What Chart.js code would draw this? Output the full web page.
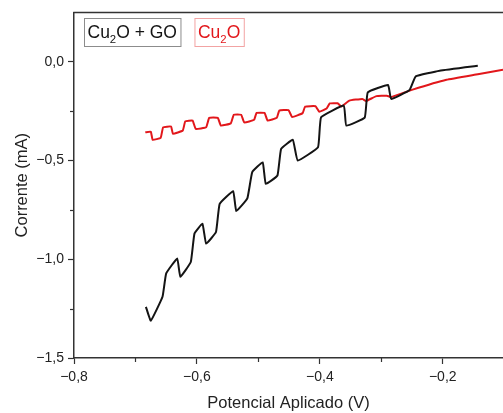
<!DOCTYPE html>
<html>
<head>
  <script src="https://cdn.jsdelivr.net/npm/chart.js@4/dist/chart.umd.min.js"></script>
  <style>body{margin:0;background:#fff}</style>
</head>
<body>

<canvas id="ivChart" width="503" height="413"></canvas>

<script>
// Cu2O + GO (black)
var goPotential = [-0.683, -0.675, -0.656, -0.650, -0.632, -0.627, -0.610, -0.604, -0.591, -0.585,
  -0.569, -0.563, -0.541, -0.536, -0.518, -0.510, -0.493, -0.488, -0.469, -0.463,
  -0.444, -0.436, -0.403, -0.398, -0.361, -0.357, -0.327, -0.322, -0.289, -0.284,
  -0.254, -0.244, -0.205, -0.143];
var goCurrent = [-1.241, -1.311, -1.190, -1.072, -0.996, -1.089, -1.014, -0.870, -0.820, -0.921,
  -0.862, -0.719, -0.655, -0.756, -0.692, -0.559, -0.509, -0.618, -0.576, -0.441,
  -0.395, -0.500, -0.433, -0.281, -0.222, -0.323, -0.283, -0.155, -0.118, -0.188,
  -0.143, -0.074, -0.045, -0.020];

// Cu2O (red)
var cuPotential = [-0.684, -0.675, -0.672, -0.659, -0.655, -0.642, -0.639, -0.623, -0.619, -0.607,
  -0.602, -0.585, -0.580, -0.566, -0.561, -0.545, -0.540, -0.528, -0.523, -0.507,
  -0.503, -0.490, -0.485, -0.470, -0.466, -0.451, -0.445, -0.428, -0.424, -0.407,
  -0.401, -0.389, -0.384, -0.371, -0.365, -0.352, -0.331, -0.325, -0.308, -0.291,
  -0.284, -0.249, -0.194, -0.143, -0.102, -0.090];
var cuCurrent = [-0.357, -0.354, -0.395, -0.385, -0.332, -0.328, -0.365, -0.348, -0.302, -0.298,
  -0.340, -0.332, -0.284, -0.284, -0.323, -0.312, -0.268, -0.268, -0.307, -0.294,
  -0.259, -0.259, -0.298, -0.284, -0.247, -0.245, -0.280, -0.260, -0.227, -0.225,
  -0.253, -0.237, -0.211, -0.210, -0.227, -0.197, -0.188, -0.199, -0.174, -0.172,
  -0.179, -0.141, -0.091, -0.063, -0.040, -0.034];

var seriesLabels = ["Cu2O + GO", "Cu2O"];
var seriesColors = ["#141414", "#e2171b"];
var legendBorders = ["#8c8c8c", "#f2a3a3"];

var xMajorTicks = [-0.8, -0.6, -0.4, -0.2];
var xMinorTicks = [-0.7, -0.5, -0.3];
var yMajorTicks = [0, -0.5, -1.0, -1.5];
var yMinorTicks = [-0.25, -0.75, -1.25];

var FONT = "'Liberation Sans', Arial, sans-serif";
var AXIS = "#333333";

function toPoints(xs, ys) {
  return xs.map(function(x, i) { return {x: x, y: ys[i]}; });
}

function fmt(v) {
  var s = Math.abs(v).toFixed(1).replace(".", ",");
  return (v < -1e-9 ? "\u2212" : "") + s;
}

// draw "Cu2O" style text with the digit after a letter as subscript
function drawFormula(ctx, text, x, y, size, measureOnly) {
  var w = 0;
  for (var i = 0; i < text.length; i++) {
    var ch = text[i];
    var sub = /[0-9]/.test(ch) && i > 0 && /[A-Za-z]/.test(text[i - 1]);
    ctx.font = (sub ? size * 0.65 : size) + "px " + FONT;
    if (!measureOnly) ctx.fillText(ch, x + w, sub ? y + size * 0.3 : y);
    w += ctx.measureText(ch).width;
  }
  return w;
}

var extras = {
  id: "extras",
  afterDraw: function(chart) {
    var ctx = chart.ctx, a = chart.chartArea;
    var xs = chart.scales.x, ys = chart.scales.y;
    ctx.save();
    // top frame line
    ctx.strokeStyle = AXIS;
    ctx.lineWidth = 1.5;
    ctx.beginPath();
    ctx.moveTo(a.left - 0.75, a.top);
    ctx.lineTo(a.right, a.top);
    ctx.stroke();
    // minor ticks
    ctx.lineWidth = 1.2;
    xMinorTicks.forEach(function(v) {
      var px = Math.round(xs.getPixelForValue(v)) + 0.5;
      ctx.beginPath();
      ctx.moveTo(px, a.bottom);
      ctx.lineTo(px, a.bottom + 4);
      ctx.stroke();
    });
    yMinorTicks.forEach(function(v) {
      var py = Math.round(ys.getPixelForValue(v)) + 0.5;
      ctx.beginPath();
      ctx.moveTo(a.left, py);
      ctx.lineTo(a.left - 4, py);
      ctx.stroke();
    });
    // legend boxes
    var size = 17.5;
    var bx = a.left + 10, by = 18, bh = 28;
    chart.data.datasets.forEach(function(ds, i) {
      var tw = drawFormula(ctx, ds.label, 0, 0, size, true);
      var bw = tw + 7;
      ctx.lineWidth = 1;
      ctx.strokeStyle = legendBorders[i];
      ctx.strokeRect(bx + 0.5, by + 0.5, bw, bh);
      ctx.fillStyle = ds.borderColor;
      ctx.textBaseline = "alphabetic";
      ctx.textAlign = "left";
      drawFormula(ctx, ds.label, bx + 3.5, by + 19.5, size, false);
      bx += bw + 14;
    });
    ctx.restore();
  }
};

var ctx = document.getElementById("ivChart").getContext("2d");
var ivChart = new Chart(ctx, {
  type: "line",
  data: {
    datasets: [{
      label: seriesLabels[0],
      data: toPoints(goPotential, goCurrent),
      borderColor: seriesColors[0],
      borderWidth: 2,
      pointRadius: 0,
      tension: 0.1,
      borderJoinStyle: "round"
    }, {
      label: seriesLabels[1],
      data: toPoints(cuPotential, cuCurrent),
      borderColor: seriesColors[1],
      borderWidth: 2,
      pointRadius: 0,
      tension: 0.1,
      borderJoinStyle: "round"
    }]
  },
  options: {
    responsive: false,
    animation: false,
    devicePixelRatio: 1,
    layout: { padding: { top: 11, left: 13, right: 0, bottom: 0 } },
    plugins: { legend: { display: false }, tooltip: { enabled: false } },
    scales: {
      x: {
        type: "linear",
        min: -0.8,
        max: -0.102,
        afterBuildTicks: function(s) { s.ticks = xMajorTicks.map(function(v) { return {value: v}; }); },
        afterFit: function(s) { s.height = 55; },
        ticks: { callback: fmt, font: { family: FONT, size: 14 }, color: "#222", padding: 5, maxRotation: 0, autoSkip: false },
        grid: { drawOnChartArea: false, tickLength: 6, tickColor: AXIS, tickWidth: 1.2 },
        border: { color: AXIS, width: 1.5 },
        title: { display: true, text: "Potencial Aplicado (V)", font: { family: FONT, size: 16.5 }, color: "#222", padding: { top: 2, bottom: 0 } }
      },
      y: {
        min: -1.5,
        max: 0.25,
        afterBuildTicks: function(s) { s.ticks = yMajorTicks.map(function(v) { return {value: v}; }); },
        afterFit: function(s) { s.width = 61; },
        ticks: { callback: fmt, font: { family: FONT, size: 14 }, color: "#222", padding: 4, autoSkip: false },
        grid: { drawOnChartArea: false, tickLength: 6, tickColor: AXIS, tickWidth: 1.2 },
        border: { color: AXIS, width: 1.5 },
        title: { display: true, text: "Corrente (mA)", font: { family: FONT, size: 16.5 }, color: "#222", padding: { top: 0, bottom: 0 } }
      }
    }
  },
  plugins: [extras]
});
</script>

</body>
</html>
